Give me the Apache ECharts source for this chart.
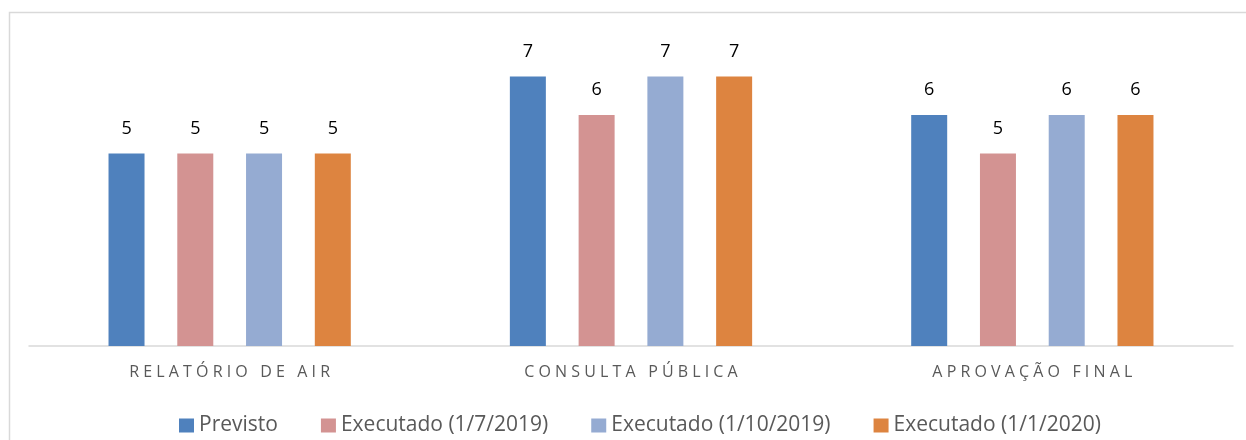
<!DOCTYPE html>
<html><head><meta charset="utf-8">
<script src="https://cdn.jsdelivr.net/npm/echarts@6/dist/echarts.min.js"></script>
<style>html,body{margin:0;padding:0;background:#fff}#c{width:1246px;height:440px}</style>
</head><body><div id="c"></div>
<script>
const categories = ['RELATÓRIO DE AIR', 'CONSULTA PÚBLICA', 'APROVAÇÃO FINAL'];
const seriesNames = ['Previsto', 'Executado (1/7/2019)', 'Executado (1/10/2019)', 'Executado (1/1/2020)'];
const previsto = [5, 7, 6];
const exec2019jul = [5, 6, 5];
const exec2019oct = [5, 7, 6];
const exec2020jan = [5, 7, 6];
const colors = ['#4F81BD', '#D39392', '#95ABD2', '#DD8440'];

const SP = ' ';
function spaced(s) {
  return s.split(' ').map(w => w.split('').join(SP)).join(SP + SP + SP);
}
const chart = echarts.init(document.getElementById('c'));
const allData = [previsto, exec2019jul, exec2019oct, exec2020jan];
const FONT = 'Open Sans';
chart.setOption({
  animation: false,
  graphic: [{
    type: 'rect', shape: {x: 9.5, y: 12.5, width: 1400, height: 600},
    style: {fill: null, stroke: '#D9D9D9', lineWidth: 1.5}, silent: true, z: -1
  }],
  grid: {left: 29, right: 13, top: 38, bottom: 94},
  legend: {
    left: 174, top: 410, itemWidth: 15, itemHeight: 14, itemGap: 43,
    icon: 'rect',
    textStyle: {fontFamily: FONT, fontSize: 21, color: '#595959'},
    data: seriesNames
  },
  xAxis: {
    type: 'category', data: categories,
    axisLine: {lineStyle: {color: '#D9D9D9', width: 1.5}},
    axisTick: {show: false},
    axisLabel: {fontFamily: FONT, fontSize: 16, color: '#595959', margin: 18, formatter: v => spaced(v)}
  },
  yAxis: {type: 'value', min: 0, max: 8, show: false, splitLine: {show: false}},
  series: seriesNames.map((n, i) => ({
    name: n, type: 'bar', data: allData[i], barWidth: 36, barGap: '91%',
    itemStyle: {color: colors[i]},
    label: {show: true, position: 'top', distance: 16, fontFamily: FONT, fontSize: 18, color: '#000'}
  }))
});
</script></body></html>
